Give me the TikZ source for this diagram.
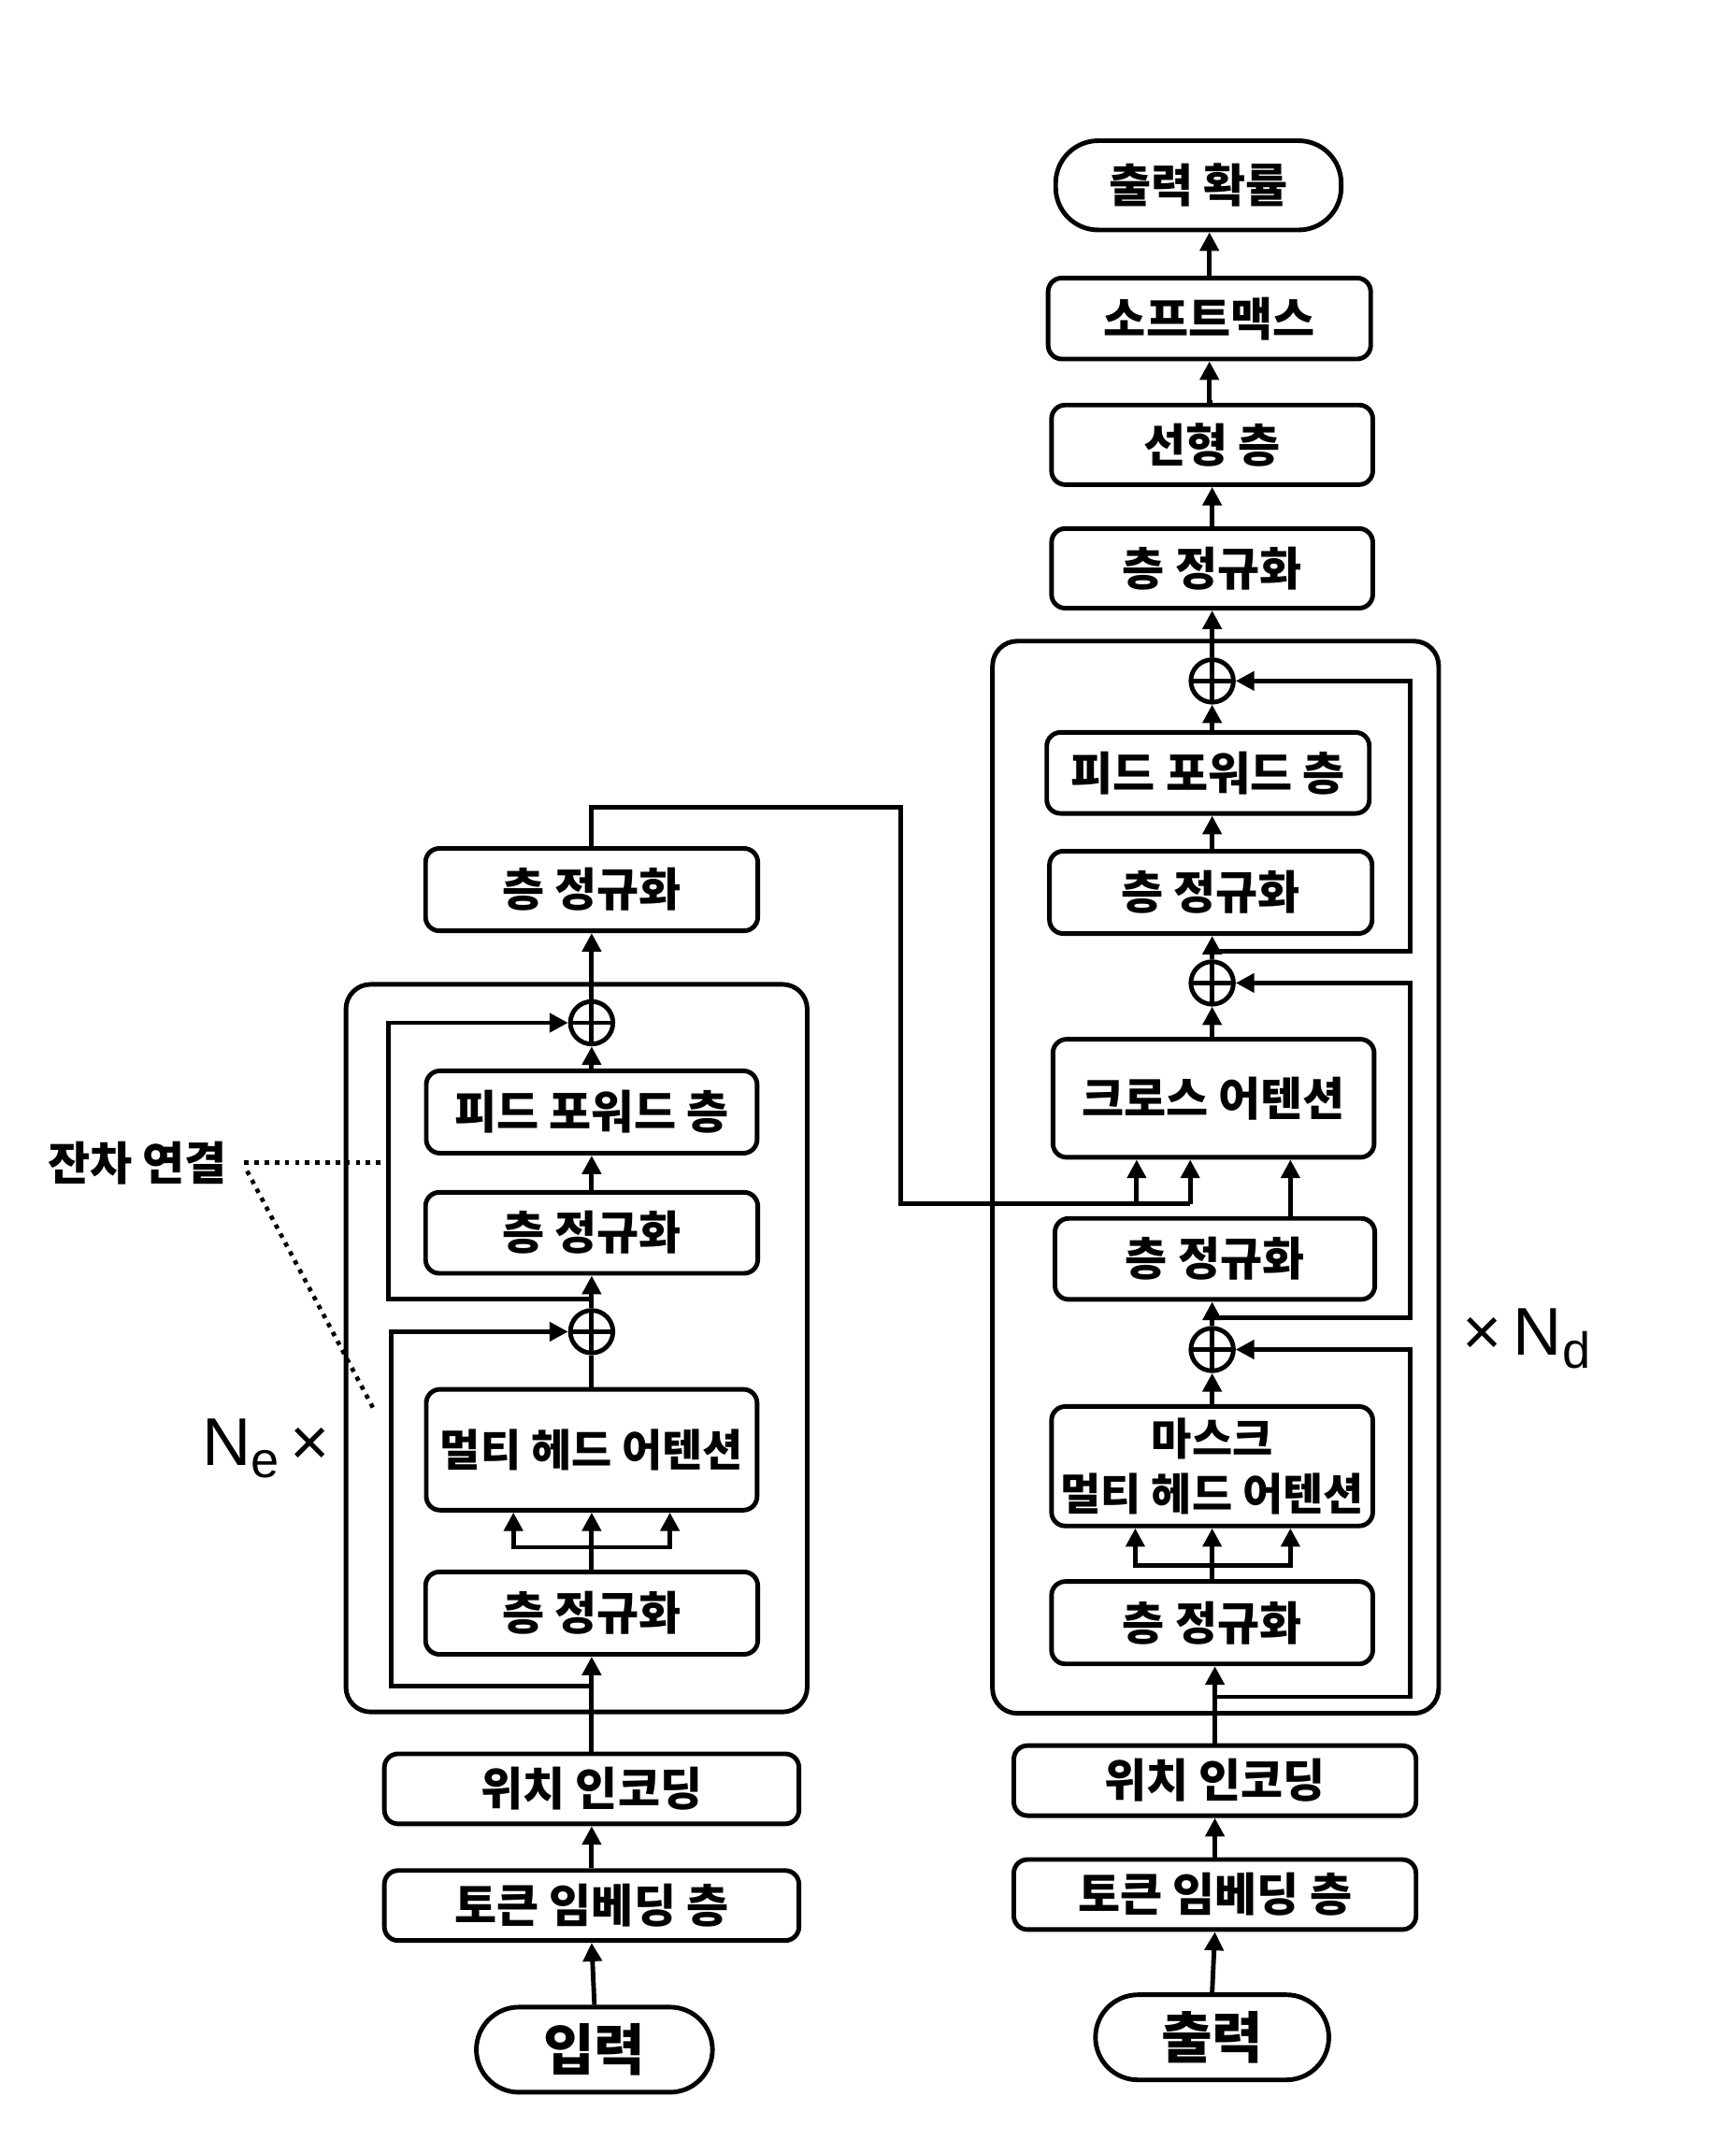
\documentclass[tikz,border=0pt]{standalone}
\usepackage{fontspec}
\setmainfont{Noto Sans CJK KR}
\newfontfamily\latinf{Liberation Sans}
\usetikzlibrary{arrows.meta,calc}
\tikzset{
  lw/.style={line width=1.9pt},
  box/.style={draw, lw, rounded corners=2mm, inner sep=0pt, align=center,
    font=\fontsize{19pt}{23pt}\selectfont\bfseries},
  stad/.style={draw, lw, rounded corners=6.2mm, inner sep=0pt, align=center},
  frame/.style={draw, lw, rounded corners=3.6mm},
  arr/.style={lw, -{Triangle[length=2.7mm,width=2.7mm]}},
  ln/.style={lw},
  plus/.style={circle, draw, lw, minimum size=6.2mm, inner sep=0pt,
    path picture={\draw[lw] (path picture bounding box.west) -- (path picture bounding box.east);
                  \draw[lw] (path picture bounding box.north) -- (path picture bounding box.south);}},
  dots/.style={line width=1.8pt, dash pattern=on 1.8pt off 2.4pt},
  lbl/.style={font=\fontsize{19pt}{22pt}\selectfont\bfseries},
  small/.style={font=\fontsize{18.2pt}{23pt}\selectfont\bfseries},
}
\begin{document}
\begin{tikzpicture}[x=0.2mm, y=-0.2mm]
\useasboundingbox (0,0) rectangle (1264,1569);

% ---------- Encoder ----------
\draw[frame] (252,717) rectangle (588,1247);
\node[stad, minimum width=34.4mm, minimum height=12.4mm, font=\fontsize{23pt}{26pt}\selectfont\bfseries] (inp) at (433,1493) {입력};
\node[box, minimum width=60.4mm, minimum height=10.2mm] (tok1) at (431,1388) {토큰 임베딩 층};
\node[box, minimum width=60.4mm, minimum height=10.2mm] (pos1) at (431,1303) {위치 인코딩};
\node[box, minimum width=48.4mm, minimum height=12mm] (ln1a) at (431,1175) {층 정규화};
\node[box, small, minimum width=48.2mm, minimum height=17.6mm] (mha1) at (431,1056) {멀티 헤드 어텐션};
\node[plus] (p1a) at (431,970) {};
\node[box, minimum width=48.4mm, minimum height=11.8mm] (ln1b) at (431,898) {층 정규화};
\node[box, minimum width=48.2mm, minimum height=12mm] (ff1) at (431,810) {피드 포워드 층};
\node[plus] (p1b) at (431,745) {};
\node[box, minimum width=48.4mm, minimum height=12mm] (ln1c) at (431,648) {층 정규화};

\draw[arr] (inp.north) -- (tok1.south);
\draw[arr] (tok1.north) -- (pos1.south);
\draw[arr] (pos1.north) -- (ln1a.south);
\draw[arr] (ln1a.north) -- (mha1.south);
\coordinate (f1) at (431,1127);
\draw[arr] (f1) -| ([xshift=-11.4mm]mha1.south);
\draw[arr] (f1) -| ([xshift=11.4mm]mha1.south);
\draw[ln] (mha1.north) -- (p1a.south);
\draw[arr] (p1a.north) -- (ln1b.south);
\draw[arr] (ln1b.north) -- (ff1.south);
\draw[arr] (ff1.north) -- (p1b.south);
\draw[arr] (p1b.north) -- (ln1c.south);
% residuals
\coordinate (r1) at (431,1228);
\coordinate (r2) at (431,946);
\draw[arr] (r1) -- (285,1228) |- (p1a.west);
\draw[arr] (r2) -- (283,946) |- (p1b.west);

% ---------- Decoder ----------
\draw[frame] (723,467) rectangle (1048,1248);
\node[stad, minimum width=34mm, minimum height=12.4mm, font=\fontsize{23pt}{26pt}\selectfont\bfseries] (out) at (883,1484) {출력};
\node[box, minimum width=58.6mm, minimum height=10.2mm] (tok2) at (885,1380) {토큰 임베딩 층};
\node[box, minimum width=58.6mm, minimum height=10.2mm] (pos2) at (885,1297) {위치 인코딩};
\node[box, minimum width=46.8mm, minimum height=12mm] (ln2a) at (883,1182) {층 정규화};
\node[box, small, minimum width=46.8mm, minimum height=17.4mm] (mmha) at (883,1068) {마스크\\멀티 헤드 어텐션};
\node[plus] (p2a) at (883,983) {};
\node[box, minimum width=46.6mm, minimum height=11.8mm] (ln2b) at (885,917) {층 정규화};
\node[box, minimum width=46.8mm, minimum height=17.2mm] (ca) at (884,800) {크로스 어텐션};
\node[plus] (p2b) at (883,716) {};
\node[box, minimum width=47mm, minimum height=12mm] (ln2c) at (882,650) {층 정규화};
\node[box, minimum width=47mm, minimum height=11.8mm] (ff2) at (880,563) {피드 포워드 층};
\node[plus] (p2c) at (883,496) {};
\node[box, minimum width=46.8mm, minimum height=11.6mm] (ln2d) at (883,414) {층 정규화};
\node[box, minimum width=46.8mm, minimum height=11.6mm] (lin) at (883,324) {선형 층};
\node[box, minimum width=47mm, minimum height=11.8mm] (sm) at (881,232) {소프트맥스};
\node[stad, minimum width=41.6mm, minimum height=13mm, font=\fontsize{19pt}{22pt}\selectfont\bfseries] (prob) at (873,135) {출력 확률};

\draw[arr] (out.north) -- (tok2.south);
\draw[arr] (tok2.north) -- (pos2.south);
\draw[arr] (pos2.north) -- (pos2.north |- ln2a.south);
\draw[arr] (ln2a.north) -- (mmha.south);
\coordinate (f2) at (883,1140);
\draw[arr] (f2) -| ([xshift=-11.2mm]mmha.south);
\draw[arr] (f2) -| ([xshift=11.4mm]mmha.south);
\draw[arr] (mmha.north) -- (p2a.south);
\draw[arr] (p2a.north) -- (p2a.north |- ln2b.south);
\draw[arr] ([xshift=11mm]ln2b.north) -- ([xshift=11mm]ln2b.north |- ca.south);
\draw[arr] (ca.north -| p2b) -- (p2b.south);
\draw[arr] (p2b.north) -- (p2b.north |- ln2c.south);
\draw[arr] (ln2c.north -| p2b) -- (p2b |- ff2.south);
\draw[arr] (ff2.north -| p2c) -- (p2c.south);
\draw[arr] (p2c.north) -- (ln2d.south);
\draw[arr] (ln2d.north) -- (lin.south);
\draw[arr] (lin.north) -- (sm.north |- lin.north) -- (sm.south);
\draw[arr] (sm.north) -- (sm.north |- prob.south);
% residuals
\coordinate (s1) at (883,1236);
\coordinate (s2) at (883,960);
\coordinate (s3) at (883,693);
\draw[arr] (s1) -- (1027,1236) |- (p2a.east);
\draw[arr] (s2) -- (1027,960) |- (p2b.east);
\draw[arr] (s3) -- (1027,693) |- (p2c.east);

% encoder output to cross attention
\coordinate (k1) at (656,877);
\draw[ln] (ln1c.north) -- (431,588) -| (k1) -- (867,877);
\draw[arr] (867,877) -- (867,877 |- ca.south);
\draw[arr] (828,877) -- (828,877 |- ca.south);

% ---------- Labels ----------
\node[lbl] (res) at (100,847) {잔차 연결};
\coordinate (d1) at (277,847);
\coordinate (d2) at (272,1026);
\draw[dots] (178,847) -- (d1);
\draw[dots] (180,853) -- (d2);
\node[font=\latinf\fontsize{28pt}{30pt}\selectfont] (ne) at (194,1055) {N\raisebox{-0.35ex}{\fontsize{21pt}{22pt}\selectfont e}\,×};
\node[font=\latinf\fontsize{28pt}{30pt}\selectfont] (nd) at (1112,975) {×\,N\raisebox{-0.35ex}{\fontsize{21pt}{22pt}\selectfont d}};
\end{tikzpicture}
\end{document}
